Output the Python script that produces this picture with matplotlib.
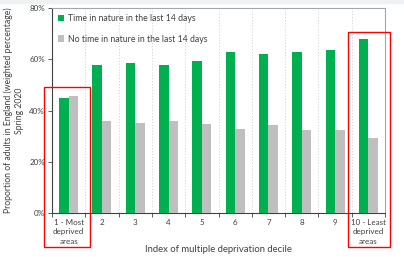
import matplotlib
matplotlib.use("Agg")
import matplotlib.pyplot as plt
from matplotlib.patches import Rectangle
import numpy as np

categories = ["1 - Most\ndeprived\nareas", "2", "3", "4", "5", "6", "7", "8", "9", "10 - Least\ndeprived\nareas"]
time_in_nature = [45.0, 57.6, 58.6, 57.6, 59.4, 62.7, 62.2, 62.7, 63.7, 67.8]
no_time_in_nature = [45.6, 36.0, 35.2, 36.0, 34.8, 32.8, 34.4, 32.2, 32.2, 29.2]
series_labels = ["Time in nature in the last 14 days", "No time in nature in the last 14 days"]
yticks = [0, 20, 40, 60, 80]

plt.rcParams['font.family'] = ['Lato', 'DejaVu Sans']

fig = plt.figure(figsize=(4.04, 2.57), dpi=100)
fig.patch.set_facecolor('white')
ax = fig.add_axes([52/404, 1-213/257, (385-52)/404, (213-8)/257])

x = np.arange(len(categories))
w = 0.285
green = '#00b050'
grey = '#bfbfbf'
ax.bar(x - w/2, time_in_nature, w, color=green, label=series_labels[0], zorder=3)
ax.bar(x + w/2, no_time_in_nature, w, color=grey, label=series_labels[1], zorder=3)

ax.set_xlim(-0.5, len(categories) - 0.5)
ax.set_ylim(0, 80)
ax.set_yticks(yticks)
ax.set_yticklabels([f"{v}%" for v in yticks], fontsize=5.8, color='#404040')
ax.set_xticks(x)
ax.set_xticklabels(categories, fontsize=5.8, color='#404040', linespacing=1.45)
ax.tick_params(axis='x', length=0, pad=4)
ax.tick_params(axis='y', length=3, width=0.6, color='#404040', pad=2)
ax.set_xticks(np.arange(-0.5, len(categories)), minor=True)
ax.tick_params(axis='x', which='minor', length=3, width=0.6, color='#404040')
for b in np.arange(0.5, len(categories) - 0.5):
    ax.axvline(b, color='#d0d0d0', lw=0.6, ls=(0, (1.5, 2)), zorder=1)

for s in ['top', 'right']:
    ax.spines[s].set_color('#a6a6a6')
    ax.spines[s].set_linewidth(0.8)
for s in ['left', 'bottom']:
    ax.spines[s].set_color('#404040')
    ax.spines[s].set_linewidth(0.8)

ax.set_ylabel("Proportion of adults in England (weighted percentage)\nSpring 2020", fontsize=6.2, color='#404040', labelpad=4, linespacing=1.3)
ax.set_xlabel("Index of multiple deprivation decile", fontsize=6.8, color='#404040', labelpad=0)

leg = ax.legend(loc='upper left', bbox_to_anchor=(0.0, 1.0), frameon=False, fontsize=6.3,
                handlelength=0.7, handleheight=0.7, handletextpad=0.4, labelspacing=1.3,
                borderaxespad=0.3)
for t in leg.get_texts():
    t.set_color('#404040')

# red highlight boxes (figure pixel coordinates)
def fig_rect(x0, y0, x1, y1):
    return Rectangle((x0/404, 1-y1/257), (x1-x0)/404, (y1-y0)/257, transform=fig.transFigure,
                     fill=False, edgecolor='#ff0000', lw=1.0, zorder=10)
fig.patches.append(fig_rect(44, 87, 90, 247))
fig.patches.append(fig_rect(348, 32, 390, 247))

# light strip at top
fig.patches.append(Rectangle((0, 1-3/257), 1, 3/257, transform=fig.transFigure, color='#f0f1f3', zorder=0))

fig.savefig("out.png", dpi=100)
